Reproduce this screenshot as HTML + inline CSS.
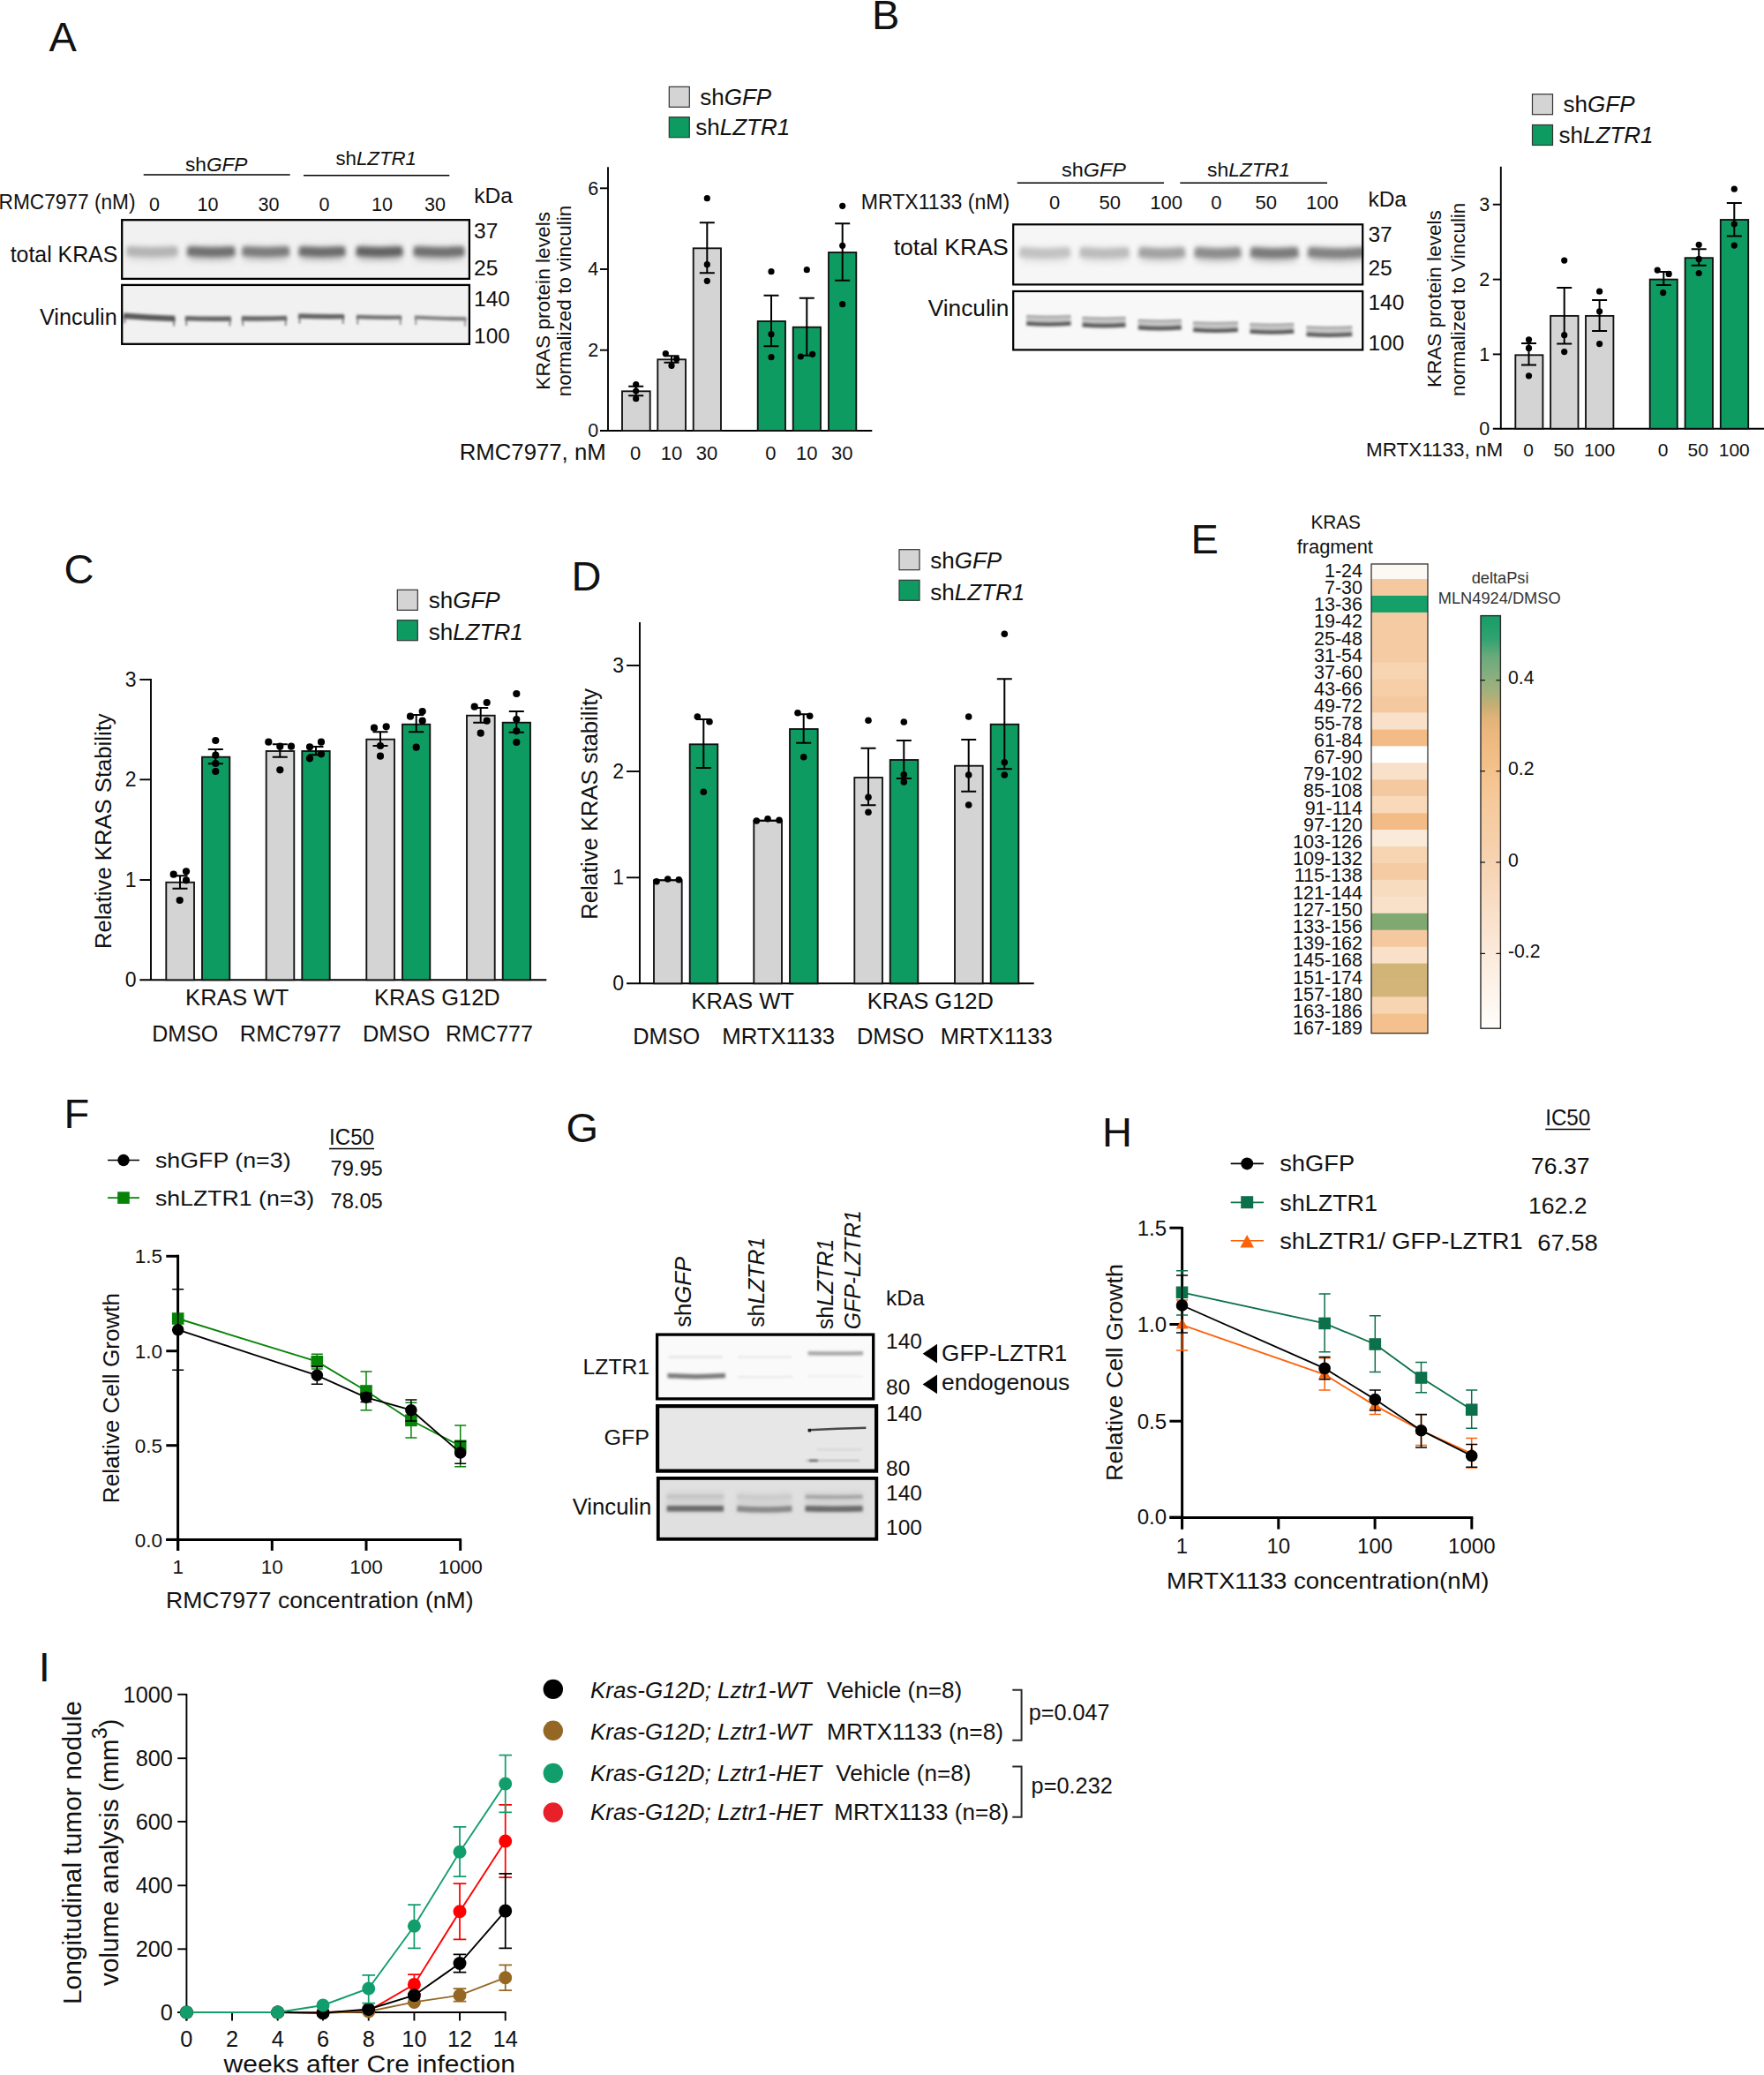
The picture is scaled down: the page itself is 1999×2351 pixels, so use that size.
<!DOCTYPE html>
<html lang="en"><head><meta charset="utf-8"><title>Figure</title>
<style>html,body{margin:0;padding:0;background:#fff}svg{display:block}</style></head>
<body>
<svg width="1999" height="2351" viewBox="0 0 1999 2351" font-family="'Liberation Sans', sans-serif" fill="#111">
<defs>
<linearGradient id="cb" x1="0" y1="0" x2="0" y2="1"><stop offset="0" stop-color="#179d66"/><stop offset="0.054" stop-color="#2fa270"/><stop offset="0.1" stop-color="#6aaa7c"/><stop offset="0.157" stop-color="#8fb07e"/><stop offset="0.19" stop-color="#a9b07c"/><stop offset="0.213" stop-color="#c2ae74"/><stop offset="0.247" stop-color="#dfb379"/><stop offset="0.281" stop-color="#ebb77d"/><stop offset="0.365" stop-color="#f4c08a"/><stop offset="0.434" stop-color="#f6c898"/><stop offset="0.598" stop-color="#f6d3b2"/><stop offset="0.819" stop-color="#fbeadb"/><stop offset="1" stop-color="#fffdfb"/></linearGradient>
</defs>
<rect x="0.0" y="0.0" width="1999.0" height="2351.0" fill="#fff"/>
<text x="55.6" y="58.4" font-size="47.00">A</text>
<text x="210.0" y="194.3" font-size="21.50" textLength="70.5" lengthAdjust="spacingAndGlyphs">sh<tspan font-style="italic">GFP</tspan></text>
<text x="380.5" y="187.3" font-size="21.50" textLength="91.5" lengthAdjust="spacingAndGlyphs">sh<tspan font-style="italic">LZTR1</tspan></text>
<line x1="162.7" y1="198.0" x2="328.7" y2="198.0" stroke="#000" stroke-width="1.6"/>
<line x1="344.0" y1="198.7" x2="509.3" y2="198.7" stroke="#000" stroke-width="1.6"/>
<text x="-1.5" y="237.3" font-size="23.00" textLength="155.0" lengthAdjust="spacingAndGlyphs">RMC7977 (nM)</text>
<text x="175.0" y="239.3" font-size="21.50" text-anchor="middle">0</text>
<text x="235.5" y="239.3" font-size="21.50" text-anchor="middle">10</text>
<text x="304.5" y="239.3" font-size="21.50" text-anchor="middle">30</text>
<text x="367.5" y="239.3" font-size="21.50" text-anchor="middle">0</text>
<text x="433.0" y="239.3" font-size="21.50" text-anchor="middle">10</text>
<text x="493.0" y="239.3" font-size="21.50" text-anchor="middle">30</text>
<text x="537.3" y="230.0" font-size="24.50">kDa</text>
<text x="537.0" y="270.0" font-size="24.50">37</text>
<text x="537.0" y="312.0" font-size="24.50">25</text>
<text x="537.0" y="346.7" font-size="24.50">140</text>
<text x="537.0" y="388.7" font-size="24.50">100</text>
<text x="11.7" y="296.7" font-size="25.00" textLength="121.6" lengthAdjust="spacingAndGlyphs">total KRAS</text>
<text x="45.0" y="367.7" font-size="25.00" textLength="87.7" lengthAdjust="spacingAndGlyphs">Vinculin</text>
<clipPath id="c1"><rect x="137.0" y="248.0" width="396.0" height="69.0"/></clipPath>
<filter id="c1f4" filterUnits="userSpaceOnUse" x="117" y="228" width="436" height="109"><feGaussianBlur stdDeviation="3.5"/></filter>
<filter id="c1f3" filterUnits="userSpaceOnUse" x="117" y="228" width="436" height="109"><feGaussianBlur stdDeviation="2.6"/></filter>
<rect x="137.0" y="248.0" width="396.0" height="69.0" fill="#f1f1f1"/>
<g clip-path="url(#c1)">
<g filter="url(#c1f4)">
<path d="M146.0 286.5Q172.3 288.7 198.7 286.5" stroke="#b4b4b4" stroke-width="17" fill="none" opacity="0.35"/>
<path d="M214.7 286.5Q239.2 288.7 263.7 286.5" stroke="#707070" stroke-width="17" fill="none" opacity="0.35"/>
<path d="M277.0 286.5Q301.1 288.7 325.3 286.5" stroke="#7c7c7c" stroke-width="17" fill="none" opacity="0.35"/>
<path d="M341.3 286.5Q365.0 288.7 388.7 286.5" stroke="#6c6c6c" stroke-width="17" fill="none" opacity="0.35"/>
<path d="M406.3 286.5Q430.0 288.7 453.7 286.5" stroke="#626262" stroke-width="17" fill="none" opacity="0.35"/>
<path d="M471.3 286.5Q497.5 288.7 523.7 286.5" stroke="#707070" stroke-width="17" fill="none" opacity="0.35"/>
</g>
<g filter="url(#c1f3)">
<path d="M143.5 284.6Q172.3 286.8 201.2 284.6" stroke="#b4b4b4" stroke-width="10.5" fill="none" opacity="1"/>
<path d="M212.2 284.6Q239.2 286.8 266.2 284.6" stroke="#707070" stroke-width="10.5" fill="none" opacity="1"/>
<path d="M274.5 284.6Q301.1 286.8 327.8 284.6" stroke="#7c7c7c" stroke-width="10.5" fill="none" opacity="1"/>
<path d="M338.8 284.6Q365.0 286.8 391.2 284.6" stroke="#6c6c6c" stroke-width="10.5" fill="none" opacity="1"/>
<path d="M403.8 284.6Q430.0 286.8 456.2 284.6" stroke="#626262" stroke-width="10.5" fill="none" opacity="1"/>
<path d="M468.8 284.6Q497.5 286.8 526.2 284.6" stroke="#707070" stroke-width="10.5" fill="none" opacity="1"/>
</g>
</g>
<rect x="138.2" y="249.2" width="393.7" height="66.7" fill="none" stroke="#000" stroke-width="2.3"/>
<clipPath id="c2"><rect x="137.0" y="321.8" width="396.0" height="69.2"/></clipPath>
<filter id="c2f2" filterUnits="userSpaceOnUse" x="117" y="302" width="436" height="109"><feGaussianBlur stdDeviation="1.8"/></filter>
<filter id="c2f1" filterUnits="userSpaceOnUse" x="117" y="302" width="436" height="109"><feGaussianBlur stdDeviation="1.0"/></filter>
<rect x="137.0" y="321.8" width="396.0" height="69.2" fill="#f1f1f1"/>
<g clip-path="url(#c2)">
<g filter="url(#c2f2)">
<path d="M140.0 357.8Q169.2 360.2 198.3 361.0" stroke="#585858" stroke-width="6.6" fill="none" opacity="1"/>
<path d="M210.0 360.6Q235.8 361.6 261.7 361.0" stroke="#646464" stroke-width="5.4" fill="none" opacity="1"/>
<path d="M274.0 360.8Q299.5 361.4 325.0 360.4" stroke="#666666" stroke-width="5.4" fill="none" opacity="1"/>
<path d="M338.3 358.0Q364.1 359.1 390.0 358.6" stroke="#626262" stroke-width="5.4" fill="none" opacity="1"/>
<path d="M404.0 359.0Q429.5 360.1 455.0 359.6" stroke="#6e6e6e" stroke-width="4.4" fill="none" opacity="1"/>
<path d="M470.0 359.6Q499.1 361.2 528.3 361.2" stroke="#7a7a7a" stroke-width="4.0" fill="none" opacity="1"/>
</g>
<g filter="url(#c2f1)">
<path d="M141.2 357.8V366.3M197.1 361.0V369.5" stroke="#585858" stroke-width="2.4" fill="none" opacity="0.6"/>
<path d="M211.2 360.6V369.1M260.5 361.0V369.5" stroke="#646464" stroke-width="2.4" fill="none" opacity="0.6"/>
<path d="M275.2 360.8V369.3M323.8 360.4V368.9" stroke="#666666" stroke-width="2.4" fill="none" opacity="0.6"/>
<path d="M339.5 358.0V366.5M388.8 358.6V367.1" stroke="#626262" stroke-width="2.4" fill="none" opacity="0.6"/>
<path d="M405.2 359.0V367.5M453.8 359.6V368.1" stroke="#6e6e6e" stroke-width="2.4" fill="none" opacity="0.6"/>
<path d="M471.2 359.6V368.1M527.1 361.2V369.7" stroke="#7a7a7a" stroke-width="2.4" fill="none" opacity="0.6"/>
</g>
</g>
<rect x="138.2" y="322.9" width="393.7" height="66.9" fill="none" stroke="#000" stroke-width="2.3"/>
<line x1="689.0" y1="189.3" x2="689.0" y2="488.8" stroke="#000" stroke-width="1.9"/>
<line x1="680.0" y1="488.0" x2="988.3" y2="488.0" stroke="#000" stroke-width="1.9"/>
<line x1="680.0" y1="213.3" x2="689.0" y2="213.3" stroke="#000" stroke-width="1.9"/>
<text x="678.3" y="220.6" font-size="21.50" text-anchor="end">6</text>
<line x1="680.0" y1="305.0" x2="689.0" y2="305.0" stroke="#000" stroke-width="1.9"/>
<text x="678.3" y="312.3" font-size="21.50" text-anchor="end">4</text>
<line x1="680.0" y1="396.7" x2="689.0" y2="396.7" stroke="#000" stroke-width="1.9"/>
<text x="678.3" y="404.0" font-size="21.50" text-anchor="end">2</text>
<text x="678.3" y="495.3" font-size="21.50" text-anchor="end">0</text>
<rect x="705.0" y="443.3" width="31.7" height="44.7" fill="#d4d4d4" stroke="#111" stroke-width="1.85"/>
<rect x="745.3" y="407.3" width="31.7" height="80.7" fill="#d4d4d4" stroke="#111" stroke-width="1.85"/>
<rect x="785.7" y="281.3" width="31.3" height="206.7" fill="#d4d4d4" stroke="#111" stroke-width="1.85"/>
<rect x="858.7" y="364.0" width="31.3" height="124.0" fill="#0e9b62" stroke="#111" stroke-width="1.85"/>
<rect x="898.7" y="370.7" width="31.3" height="117.3" fill="#0e9b62" stroke="#111" stroke-width="1.85"/>
<rect x="939.0" y="286.0" width="31.3" height="202.0" fill="#0e9b62" stroke="#111" stroke-width="1.85"/>
<path d="M712.2 437.7H729.2M712.2 448.3H729.2M720.7 437.7V448.3" stroke="#000" stroke-width="2.0" fill="none"/>
<path d="M752.5 403.3H769.5M752.5 410.7H769.5M761.0 403.3V410.7" stroke="#000" stroke-width="2.0" fill="none"/>
<path d="M792.8 252.3H809.8M792.8 309.3H809.8M801.3 252.3V309.3" stroke="#000" stroke-width="2.0" fill="none"/>
<path d="M865.5 334.7H882.5M865.5 392.3H882.5M874.0 334.7V392.3" stroke="#000" stroke-width="2.0" fill="none"/>
<path d="M905.8 337.7H922.8M905.8 402.7H922.8M914.3 337.7V402.7" stroke="#000" stroke-width="2.0" fill="none"/>
<path d="M946.2 253.3H963.2M946.2 317.7H963.2M954.7 253.3V317.7" stroke="#000" stroke-width="2.0" fill="none"/>
<circle cx="720.7" cy="435.7" r="3.6" fill="#000"/>
<circle cx="720.7" cy="443.0" r="3.6" fill="#000"/>
<circle cx="720.7" cy="451.7" r="3.6" fill="#000"/>
<circle cx="754.3" cy="400.7" r="3.6" fill="#000"/>
<circle cx="766.7" cy="406.7" r="3.6" fill="#000"/>
<circle cx="761.0" cy="414.3" r="3.6" fill="#000"/>
<circle cx="801.3" cy="224.7" r="3.6" fill="#000"/>
<circle cx="801.3" cy="299.7" r="3.6" fill="#000"/>
<circle cx="801.3" cy="318.3" r="3.6" fill="#000"/>
<circle cx="874.0" cy="307.7" r="3.6" fill="#000"/>
<circle cx="874.0" cy="378.7" r="3.6" fill="#000"/>
<circle cx="874.0" cy="404.7" r="3.6" fill="#000"/>
<circle cx="914.3" cy="305.7" r="3.6" fill="#000"/>
<circle cx="907.3" cy="404.0" r="3.6" fill="#000"/>
<circle cx="920.7" cy="401.3" r="3.6" fill="#000"/>
<circle cx="954.7" cy="233.3" r="3.6" fill="#000"/>
<circle cx="954.7" cy="278.3" r="3.6" fill="#000"/>
<circle cx="954.7" cy="344.7" r="3.6" fill="#000"/>
<rect x="758.3" y="98.3" width="23.0" height="23.0" fill="#d4d4d4" stroke="#333" stroke-width="1.2"/>
<rect x="758.3" y="132.7" width="23.0" height="23.0" fill="#0e9b62" stroke="#333" stroke-width="1.2"/>
<text x="793.3" y="119.3" font-size="26.00">sh<tspan font-style="italic">GFP</tspan></text>
<text x="788.3" y="153.3" font-size="26.00">sh<tspan font-style="italic">LZTR1</tspan></text>
<text x="0" y="0" font-size="22.50" text-anchor="middle" textLength="201.7" lengthAdjust="spacingAndGlyphs" transform="translate(622.7 340.8) rotate(-90)">KRAS protein levels</text>
<text x="0" y="0" font-size="22.50" text-anchor="middle" textLength="216.7" lengthAdjust="spacingAndGlyphs" transform="translate(646.7 341.0) rotate(-90)">normalized to vinculin</text>
<text x="520.7" y="521.0" font-size="25.50" textLength="166.0" lengthAdjust="spacingAndGlyphs">RMC7977, nM</text>
<text x="720.0" y="521.0" font-size="22.00" text-anchor="middle">0</text>
<text x="761.0" y="521.0" font-size="22.00" text-anchor="middle">10</text>
<text x="801.0" y="521.0" font-size="22.00" text-anchor="middle">30</text>
<text x="873.3" y="521.0" font-size="22.00" text-anchor="middle">0</text>
<text x="914.3" y="521.0" font-size="22.00" text-anchor="middle">10</text>
<text x="954.3" y="521.0" font-size="22.00" text-anchor="middle">30</text>
<text x="988.0" y="32.8" font-size="47.00">B</text>
<text x="1203.0" y="200.0" font-size="22.00" textLength="73.0" lengthAdjust="spacingAndGlyphs">sh<tspan font-style="italic">GFP</tspan></text>
<text x="1368.0" y="200.0" font-size="22.00" textLength="94.0" lengthAdjust="spacingAndGlyphs">sh<tspan font-style="italic">LZTR1</tspan></text>
<line x1="1152.7" y1="207.3" x2="1319.0" y2="207.3" stroke="#000" stroke-width="1.6"/>
<line x1="1337.3" y1="207.3" x2="1504.0" y2="207.3" stroke="#000" stroke-width="1.6"/>
<text x="975.7" y="237.3" font-size="23.00" textLength="168.6" lengthAdjust="spacingAndGlyphs">MRTX1133 (nM)</text>
<text x="1195.0" y="237.3" font-size="22.00" text-anchor="middle">0</text>
<text x="1257.7" y="237.3" font-size="22.00" text-anchor="middle">50</text>
<text x="1321.7" y="237.3" font-size="22.00" text-anchor="middle">100</text>
<text x="1378.3" y="237.3" font-size="22.00" text-anchor="middle">0</text>
<text x="1434.7" y="237.3" font-size="22.00" text-anchor="middle">50</text>
<text x="1498.3" y="237.3" font-size="22.00" text-anchor="middle">100</text>
<text x="1012.7" y="289.3" font-size="26.00" textLength="130.0" lengthAdjust="spacingAndGlyphs">total KRAS</text>
<text x="1051.7" y="358.3" font-size="26.00" textLength="91.6" lengthAdjust="spacingAndGlyphs">Vinculin</text>
<text x="1550.4" y="234.0" font-size="24.50">kDa</text>
<text x="1550.4" y="273.6" font-size="24.50">37</text>
<text x="1550.4" y="311.8" font-size="24.50">25</text>
<text x="1550.4" y="350.5" font-size="24.50">140</text>
<text x="1550.4" y="396.6" font-size="24.50">100</text>
<clipPath id="c3"><rect x="1147.1" y="253.2" width="398.2" height="70.3"/></clipPath>
<filter id="c3f4" filterUnits="userSpaceOnUse" x="1127" y="233" width="438" height="110"><feGaussianBlur stdDeviation="3.5"/></filter>
<filter id="c3f3" filterUnits="userSpaceOnUse" x="1127" y="233" width="438" height="110"><feGaussianBlur stdDeviation="2.6"/></filter>
<rect x="1147.1" y="253.2" width="398.2" height="70.3" fill="#f6f6f6"/>
<g clip-path="url(#c3)">
<g filter="url(#c3f4)">
<path d="M1158.0 287.5Q1184.2 291.0 1210.3 287.5" stroke="#c2c2c2" stroke-width="18" fill="none" opacity="0.35"/>
<path d="M1226.3 287.5Q1251.7 291.0 1277.0 287.5" stroke="#bcbcbc" stroke-width="18" fill="none" opacity="0.35"/>
<path d="M1293.0 287.5Q1316.7 291.0 1340.3 287.5" stroke="#a2a2a2" stroke-width="18" fill="none" opacity="0.35"/>
<path d="M1356.3 287.5Q1380.0 291.0 1403.7 287.5" stroke="#8c8c8c" stroke-width="18" fill="none" opacity="0.35"/>
<path d="M1419.7 287.5Q1444.2 291.0 1468.7 287.5" stroke="#7a7a7a" stroke-width="18" fill="none" opacity="0.35"/>
<path d="M1484.7 287.5Q1514.8 291.0 1545.0 287.5" stroke="#828282" stroke-width="18" fill="none" opacity="0.35"/>
</g>
<g filter="url(#c3f3)">
<path d="M1155.5 285.5Q1184.2 289.0 1212.8 285.5" stroke="#c2c2c2" stroke-width="11" fill="none" opacity="1"/>
<path d="M1223.8 285.5Q1251.7 289.0 1279.5 285.5" stroke="#bcbcbc" stroke-width="11" fill="none" opacity="1"/>
<path d="M1290.5 285.5Q1316.7 289.0 1342.8 285.5" stroke="#a2a2a2" stroke-width="11" fill="none" opacity="1"/>
<path d="M1353.8 285.5Q1380.0 289.0 1406.2 285.5" stroke="#8c8c8c" stroke-width="11" fill="none" opacity="1"/>
<path d="M1417.2 285.5Q1444.2 289.0 1471.2 285.5" stroke="#7a7a7a" stroke-width="11" fill="none" opacity="1"/>
<path d="M1482.2 285.5Q1514.8 289.0 1547.5 285.5" stroke="#828282" stroke-width="11" fill="none" opacity="1"/>
</g>
</g>
<rect x="1148.2" y="254.3" width="396.0" height="68.1" fill="none" stroke="#000" stroke-width="2.2"/>
<clipPath id="c4"><rect x="1147.1" y="328.9" width="398.2" height="68.6"/></clipPath>
<filter id="c4f2" filterUnits="userSpaceOnUse" x="1127" y="309" width="438" height="109"><feGaussianBlur stdDeviation="1.8"/></filter>
<filter id="c4f1" filterUnits="userSpaceOnUse" x="1127" y="309" width="438" height="109"><feGaussianBlur stdDeviation="1.0"/></filter>
<rect x="1147.1" y="328.9" width="398.2" height="68.6" fill="#f8f8f8"/>
<g clip-path="url(#c4)">
<g filter="url(#c4f2)">
<path d="M1163.2 360.5Q1188.3 362.0 1213.5 360.5" stroke="#c6c6c6" stroke-width="7.5" fill="none" opacity="1"/>
<path d="M1163.2 366.3Q1188.3 368.3 1213.5 366.3" stroke="#5a5a5a" stroke-width="4.8" fill="none" opacity="1"/>
<path d="M1226.5 362.2Q1251.0 363.7 1275.5 362.2" stroke="#c6c6c6" stroke-width="7.5" fill="none" opacity="1"/>
<path d="M1226.5 368.0Q1251.0 370.0 1275.5 368.0" stroke="#5a5a5a" stroke-width="4.8" fill="none" opacity="1"/>
<path d="M1289.8 365.2Q1314.3 366.7 1338.8 365.2" stroke="#c6c6c6" stroke-width="7.5" fill="none" opacity="1"/>
<path d="M1289.8 371.0Q1314.3 373.0 1338.8 371.0" stroke="#5a5a5a" stroke-width="4.8" fill="none" opacity="1"/>
<path d="M1352.2 367.8Q1377.5 369.3 1402.8 367.8" stroke="#c6c6c6" stroke-width="7.5" fill="none" opacity="1"/>
<path d="M1352.2 373.6Q1377.5 375.6 1402.8 373.6" stroke="#5a5a5a" stroke-width="4.8" fill="none" opacity="1"/>
<path d="M1416.5 369.5Q1441.3 371.0 1466.2 369.5" stroke="#c6c6c6" stroke-width="7.5" fill="none" opacity="1"/>
<path d="M1416.5 375.3Q1441.3 377.3 1466.2 375.3" stroke="#5a5a5a" stroke-width="4.8" fill="none" opacity="1"/>
<path d="M1480.5 372.8Q1506.3 374.3 1532.2 372.8" stroke="#c6c6c6" stroke-width="7.5" fill="none" opacity="1"/>
<path d="M1480.5 378.6Q1506.3 380.6 1532.2 378.6" stroke="#5a5a5a" stroke-width="4.8" fill="none" opacity="1"/>
</g>
<g filter="url(#c4f1)">
<path d="M1163.2 358.5Q1188.3 360.0 1213.5 358.5" stroke="#a8a8a8" stroke-width="2.5" fill="none" opacity="0.7"/>
<path d="M1226.5 360.2Q1251.0 361.7 1275.5 360.2" stroke="#a8a8a8" stroke-width="2.5" fill="none" opacity="0.7"/>
<path d="M1289.8 363.2Q1314.3 364.7 1338.8 363.2" stroke="#a8a8a8" stroke-width="2.5" fill="none" opacity="0.7"/>
<path d="M1352.2 365.8Q1377.5 367.3 1402.8 365.8" stroke="#a8a8a8" stroke-width="2.5" fill="none" opacity="0.7"/>
<path d="M1416.5 367.5Q1441.3 369.0 1466.2 367.5" stroke="#a8a8a8" stroke-width="2.5" fill="none" opacity="0.7"/>
<path d="M1480.5 370.8Q1506.3 372.3 1532.2 370.8" stroke="#a8a8a8" stroke-width="2.5" fill="none" opacity="0.7"/>
</g>
</g>
<rect x="1148.2" y="330.0" width="396.0" height="66.4" fill="none" stroke="#000" stroke-width="2.2"/>
<line x1="1700.8" y1="188.7" x2="1700.8" y2="486.5" stroke="#000" stroke-width="1.9"/>
<line x1="1691.8" y1="485.7" x2="1999.0" y2="485.7" stroke="#000" stroke-width="1.9"/>
<line x1="1691.8" y1="231.7" x2="1700.8" y2="231.7" stroke="#000" stroke-width="1.9"/>
<text x="1688.3" y="239.0" font-size="21.50" text-anchor="end">3</text>
<line x1="1691.8" y1="316.6" x2="1700.8" y2="316.6" stroke="#000" stroke-width="1.9"/>
<text x="1688.3" y="323.9" font-size="21.50" text-anchor="end">2</text>
<line x1="1691.8" y1="401.4" x2="1700.8" y2="401.4" stroke="#000" stroke-width="1.9"/>
<text x="1688.3" y="408.7" font-size="21.50" text-anchor="end">1</text>
<text x="1688.3" y="493.0" font-size="21.50" text-anchor="end">0</text>
<rect x="1717.3" y="402.3" width="31.1" height="83.4" fill="#d4d4d4" stroke="#111" stroke-width="1.85"/>
<rect x="1757.1" y="357.9" width="31.4" height="127.8" fill="#d4d4d4" stroke="#111" stroke-width="1.85"/>
<rect x="1797.0" y="357.9" width="31.4" height="127.8" fill="#d4d4d4" stroke="#111" stroke-width="1.85"/>
<rect x="1869.7" y="316.6" width="31.1" height="169.1" fill="#0e9b62" stroke="#111" stroke-width="1.85"/>
<rect x="1909.6" y="292.2" width="31.4" height="193.5" fill="#0e9b62" stroke="#111" stroke-width="1.85"/>
<rect x="1949.8" y="249.0" width="31.4" height="236.7" fill="#0e9b62" stroke="#111" stroke-width="1.85"/>
<path d="M1724.0 389.0H1741.0M1724.0 413.6H1741.0M1732.5 389.0V413.6" stroke="#000" stroke-width="2.0" fill="none"/>
<path d="M1764.2 325.9H1781.2M1764.2 389.6H1781.2M1772.7 325.9V389.6" stroke="#000" stroke-width="2.0" fill="none"/>
<path d="M1804.1 340.0H1821.1M1804.1 374.9H1821.1M1812.6 340.0V374.9" stroke="#000" stroke-width="2.0" fill="none"/>
<path d="M1876.8 308.1H1893.8M1876.8 323.1H1893.8M1885.3 308.1V323.1" stroke="#000" stroke-width="2.0" fill="none"/>
<path d="M1916.7 282.3H1933.7M1916.7 300.7H1933.7M1925.2 282.3V300.7" stroke="#000" stroke-width="2.0" fill="none"/>
<path d="M1956.8 230.0H1973.8M1956.8 267.4H1973.8M1965.3 230.0V267.4" stroke="#000" stroke-width="2.0" fill="none"/>
<circle cx="1732.5" cy="384.8" r="3.6" fill="#000"/>
<circle cx="1732.5" cy="394.4" r="3.6" fill="#000"/>
<circle cx="1732.5" cy="425.8" r="3.6" fill="#000"/>
<circle cx="1772.7" cy="295.1" r="3.6" fill="#000"/>
<circle cx="1772.7" cy="379.7" r="3.6" fill="#000"/>
<circle cx="1772.7" cy="398.6" r="3.6" fill="#000"/>
<circle cx="1812.6" cy="330.2" r="3.6" fill="#000"/>
<circle cx="1812.6" cy="352.8" r="3.6" fill="#000"/>
<circle cx="1812.6" cy="389.6" r="3.6" fill="#000"/>
<circle cx="1878.2" cy="306.1" r="3.6" fill="#000"/>
<circle cx="1891.2" cy="310.4" r="3.6" fill="#000"/>
<circle cx="1884.7" cy="331.6" r="3.6" fill="#000"/>
<circle cx="1925.2" cy="277.3" r="3.6" fill="#000"/>
<circle cx="1925.2" cy="293.4" r="3.6" fill="#000"/>
<circle cx="1925.2" cy="309.5" r="3.6" fill="#000"/>
<circle cx="1965.3" cy="214.2" r="3.6" fill="#000"/>
<circle cx="1965.3" cy="253.8" r="3.6" fill="#000"/>
<circle cx="1965.3" cy="278.1" r="3.6" fill="#000"/>
<rect x="1736.5" y="106.7" width="23.0" height="23.0" fill="#d4d4d4" stroke="#333" stroke-width="1.2"/>
<rect x="1736.5" y="141.5" width="23.0" height="23.0" fill="#0e9b62" stroke="#333" stroke-width="1.2"/>
<text x="1771.6" y="127.0" font-size="26.00">sh<tspan font-style="italic">GFP</tspan></text>
<text x="1766.5" y="161.8" font-size="26.00">sh<tspan font-style="italic">LZTR1</tspan></text>
<text x="0" y="0" font-size="22.50" text-anchor="middle" textLength="201.0" lengthAdjust="spacingAndGlyphs" transform="translate(1633.0 338.6) rotate(-90)">KRAS protein levels</text>
<text x="0" y="0" font-size="22.50" text-anchor="middle" textLength="219.3" lengthAdjust="spacingAndGlyphs" transform="translate(1659.8 339.3) rotate(-90)">normalized to Vinculin</text>
<text x="1548.1" y="517.4" font-size="22.20" textLength="155.0" lengthAdjust="spacingAndGlyphs">MRTX1133, nM</text>
<text x="1732.0" y="517.4" font-size="21.00" text-anchor="middle">0</text>
<text x="1772.1" y="517.4" font-size="21.00" text-anchor="middle">50</text>
<text x="1812.6" y="517.4" font-size="21.00" text-anchor="middle">100</text>
<text x="1884.7" y="517.4" font-size="21.00" text-anchor="middle">0</text>
<text x="1924.3" y="517.4" font-size="21.00" text-anchor="middle">50</text>
<text x="1965.3" y="517.4" font-size="21.00" text-anchor="middle">100</text>
<text x="72.6" y="661.2" font-size="47.00">C</text>
<line x1="171.0" y1="769.0" x2="171.0" y2="1111.1" stroke="#000" stroke-width="1.9"/>
<line x1="158.3" y1="1110.3" x2="619.3" y2="1110.3" stroke="#000" stroke-width="1.9"/>
<line x1="158.3" y1="770.0" x2="171.0" y2="770.0" stroke="#000" stroke-width="1.9"/>
<text x="154.6" y="778.0" font-size="23.00" text-anchor="end">3</text>
<line x1="158.3" y1="883.3" x2="171.0" y2="883.3" stroke="#000" stroke-width="1.9"/>
<text x="154.6" y="891.3" font-size="23.00" text-anchor="end">2</text>
<line x1="158.3" y1="997.0" x2="171.0" y2="997.0" stroke="#000" stroke-width="1.9"/>
<text x="154.6" y="1005.0" font-size="23.00" text-anchor="end">1</text>
<text x="154.6" y="1118.3" font-size="23.00" text-anchor="end">0</text>
<rect x="188.3" y="999.7" width="31.7" height="110.6" fill="#d4d4d4" stroke="#111" stroke-width="1.85"/>
<rect x="229.0" y="857.7" width="31.3" height="252.6" fill="#0e9b62" stroke="#111" stroke-width="1.85"/>
<rect x="301.7" y="851.0" width="31.6" height="259.3" fill="#d4d4d4" stroke="#111" stroke-width="1.85"/>
<rect x="342.3" y="851.0" width="31.4" height="259.3" fill="#0e9b62" stroke="#111" stroke-width="1.85"/>
<rect x="415.3" y="837.7" width="31.7" height="272.6" fill="#d4d4d4" stroke="#111" stroke-width="1.85"/>
<rect x="456.0" y="820.7" width="31.3" height="289.6" fill="#0e9b62" stroke="#111" stroke-width="1.85"/>
<rect x="529.0" y="810.7" width="31.7" height="299.6" fill="#d4d4d4" stroke="#111" stroke-width="1.85"/>
<rect x="569.7" y="818.7" width="31.3" height="291.6" fill="#0e9b62" stroke="#111" stroke-width="1.85"/>
<path d="M195.5 992.3H212.5M195.5 1006.7H212.5M204.0 992.3V1006.7" stroke="#000" stroke-width="2.0" fill="none"/>
<path d="M235.8 849.0H252.8M235.8 865.3H252.8M244.3 849.0V865.3" stroke="#000" stroke-width="2.0" fill="none"/>
<path d="M308.8 843.3H325.8M308.8 857.7H325.8M317.3 843.3V857.7" stroke="#000" stroke-width="2.0" fill="none"/>
<path d="M349.5 846.0H366.5M349.5 855.3H366.5M358.0 846.0V855.3" stroke="#000" stroke-width="2.0" fill="none"/>
<path d="M422.5 829.3H439.5M422.5 845.0H439.5M431.0 829.3V845.0" stroke="#000" stroke-width="2.0" fill="none"/>
<path d="M463.2 810.0H480.2M463.2 829.3H480.2M471.7 810.0V829.3" stroke="#000" stroke-width="2.0" fill="none"/>
<path d="M536.2 802.0H553.2M536.2 818.7H553.2M544.7 802.0V818.7" stroke="#000" stroke-width="2.0" fill="none"/>
<path d="M576.8 806.0H593.8M576.8 829.7H593.8M585.3 806.0V829.7" stroke="#000" stroke-width="2.0" fill="none"/>
<circle cx="196.7" cy="990.7" r="4.1" fill="#000"/>
<circle cx="211.0" cy="987.3" r="4.1" fill="#000"/>
<circle cx="211.0" cy="997.3" r="4.1" fill="#000"/>
<circle cx="203.7" cy="1020.0" r="4.1" fill="#000"/>
<circle cx="244.3" cy="839.0" r="4.1" fill="#000"/>
<circle cx="244.3" cy="855.7" r="4.1" fill="#000"/>
<circle cx="244.3" cy="865.0" r="4.1" fill="#000"/>
<circle cx="244.3" cy="874.0" r="4.1" fill="#000"/>
<circle cx="304.3" cy="840.7" r="4.1" fill="#000"/>
<circle cx="317.3" cy="845.7" r="4.1" fill="#000"/>
<circle cx="330.0" cy="845.7" r="4.1" fill="#000"/>
<circle cx="317.3" cy="872.3" r="4.1" fill="#000"/>
<circle cx="351.0" cy="846.3" r="4.1" fill="#000"/>
<circle cx="364.0" cy="840.7" r="4.1" fill="#000"/>
<circle cx="351.0" cy="859.3" r="4.1" fill="#000"/>
<circle cx="364.0" cy="854.3" r="4.1" fill="#000"/>
<circle cx="424.0" cy="824.7" r="4.1" fill="#000"/>
<circle cx="437.7" cy="823.3" r="4.1" fill="#000"/>
<circle cx="431.0" cy="845.0" r="4.1" fill="#000"/>
<circle cx="431.0" cy="856.7" r="4.1" fill="#000"/>
<circle cx="465.0" cy="811.7" r="4.1" fill="#000"/>
<circle cx="478.7" cy="806.0" r="4.1" fill="#000"/>
<circle cx="478.7" cy="816.7" r="4.1" fill="#000"/>
<circle cx="471.7" cy="846.7" r="4.1" fill="#000"/>
<circle cx="537.7" cy="800.7" r="4.1" fill="#000"/>
<circle cx="551.7" cy="796.0" r="4.1" fill="#000"/>
<circle cx="551.7" cy="816.7" r="4.1" fill="#000"/>
<circle cx="544.7" cy="830.7" r="4.1" fill="#000"/>
<circle cx="585.3" cy="786.0" r="4.1" fill="#000"/>
<circle cx="585.3" cy="815.0" r="4.1" fill="#000"/>
<circle cx="585.3" cy="828.3" r="4.1" fill="#000"/>
<circle cx="585.3" cy="841.0" r="4.1" fill="#000"/>
<rect x="450.3" y="668.3" width="23.0" height="23.0" fill="#d4d4d4" stroke="#333" stroke-width="1.2"/>
<rect x="450.3" y="702.7" width="23.0" height="23.0" fill="#0e9b62" stroke="#333" stroke-width="1.2"/>
<text x="485.7" y="689.0" font-size="26.00">sh<tspan font-style="italic">GFP</tspan></text>
<text x="485.7" y="725.0" font-size="26.00">sh<tspan font-style="italic">LZTR1</tspan></text>
<text x="0" y="0" font-size="25.50" text-anchor="middle" textLength="266.7" lengthAdjust="spacingAndGlyphs" transform="translate(126.0 941.7) rotate(-90)">Relative KRAS Stability</text>
<text x="210.0" y="1139.3" font-size="25.50" textLength="117.3" lengthAdjust="spacingAndGlyphs">KRAS WT</text>
<text x="424.0" y="1139.3" font-size="25.50" textLength="142.7" lengthAdjust="spacingAndGlyphs">KRAS G12D</text>
<text x="172.3" y="1180.0" font-size="25.50" textLength="75.0" lengthAdjust="spacingAndGlyphs">DMSO</text>
<text x="271.7" y="1180.0" font-size="25.50" textLength="115.0" lengthAdjust="spacingAndGlyphs">RMC7977</text>
<text x="411.0" y="1180.0" font-size="25.50" textLength="76.3" lengthAdjust="spacingAndGlyphs">DMSO</text>
<text x="505.0" y="1180.0" font-size="25.50" textLength="99.0" lengthAdjust="spacingAndGlyphs">RMC777</text>
<text x="647.6" y="669.2" font-size="47.00">D</text>
<line x1="725.0" y1="705.0" x2="725.0" y2="1115.1" stroke="#000" stroke-width="1.9"/>
<line x1="710.0" y1="1114.3" x2="1171.7" y2="1114.3" stroke="#000" stroke-width="1.9"/>
<line x1="710.0" y1="754.0" x2="725.0" y2="754.0" stroke="#000" stroke-width="1.9"/>
<text x="707.0" y="762.0" font-size="23.00" text-anchor="end">3</text>
<line x1="710.0" y1="874.0" x2="725.0" y2="874.0" stroke="#000" stroke-width="1.9"/>
<text x="707.0" y="882.0" font-size="23.00" text-anchor="end">2</text>
<line x1="710.0" y1="994.3" x2="725.0" y2="994.3" stroke="#000" stroke-width="1.9"/>
<text x="707.0" y="1002.3" font-size="23.00" text-anchor="end">1</text>
<text x="707.0" y="1122.3" font-size="23.00" text-anchor="end">0</text>
<rect x="741.0" y="997.3" width="31.7" height="117.0" fill="#d4d4d4" stroke="#111" stroke-width="1.85"/>
<rect x="781.7" y="843.3" width="31.6" height="271.0" fill="#0e9b62" stroke="#111" stroke-width="1.85"/>
<rect x="854.3" y="930.0" width="31.7" height="184.3" fill="#d4d4d4" stroke="#111" stroke-width="1.85"/>
<rect x="895.0" y="826.0" width="31.7" height="288.3" fill="#0e9b62" stroke="#111" stroke-width="1.85"/>
<rect x="968.3" y="881.0" width="31.7" height="233.3" fill="#d4d4d4" stroke="#111" stroke-width="1.85"/>
<rect x="1008.7" y="861.0" width="31.6" height="253.3" fill="#0e9b62" stroke="#111" stroke-width="1.85"/>
<rect x="1082.0" y="867.7" width="31.7" height="246.6" fill="#d4d4d4" stroke="#111" stroke-width="1.85"/>
<rect x="1122.7" y="820.7" width="31.6" height="293.6" fill="#0e9b62" stroke="#111" stroke-width="1.85"/>
<path d="M788.8 815.0H805.8M788.8 870.0H805.8M797.3 815.0V870.0" stroke="#000" stroke-width="2.0" fill="none"/>
<path d="M902.2 809.3H919.2M902.2 841.7H919.2M910.7 809.3V841.7" stroke="#000" stroke-width="2.0" fill="none"/>
<path d="M975.5 847.7H992.5M975.5 912.3H992.5M984.0 847.7V912.3" stroke="#000" stroke-width="2.0" fill="none"/>
<path d="M1015.8 839.0H1032.8M1015.8 882.0H1032.8M1024.3 839.0V882.0" stroke="#000" stroke-width="2.0" fill="none"/>
<path d="M1089.2 838.0H1106.2M1089.2 896.7H1106.2M1097.7 838.0V896.7" stroke="#000" stroke-width="2.0" fill="none"/>
<path d="M1129.8 769.3H1146.8M1129.8 871.3H1146.8M1138.3 769.3V871.3" stroke="#000" stroke-width="2.0" fill="none"/>
<circle cx="744.0" cy="998.7" r="3.8" fill="#000"/>
<circle cx="756.7" cy="996.0" r="3.8" fill="#000"/>
<circle cx="769.3" cy="996.7" r="3.8" fill="#000"/>
<circle cx="790.3" cy="812.0" r="3.8" fill="#000"/>
<circle cx="804.0" cy="817.7" r="3.8" fill="#000"/>
<circle cx="797.3" cy="897.3" r="3.8" fill="#000"/>
<circle cx="857.3" cy="930.0" r="3.8" fill="#000"/>
<circle cx="870.0" cy="927.7" r="3.8" fill="#000"/>
<circle cx="883.0" cy="929.3" r="3.8" fill="#000"/>
<circle cx="904.0" cy="807.7" r="3.8" fill="#000"/>
<circle cx="917.7" cy="811.3" r="3.8" fill="#000"/>
<circle cx="910.7" cy="857.7" r="3.8" fill="#000"/>
<circle cx="984.0" cy="816.3" r="3.8" fill="#000"/>
<circle cx="984.0" cy="903.3" r="3.8" fill="#000"/>
<circle cx="984.0" cy="920.3" r="3.8" fill="#000"/>
<circle cx="1024.3" cy="818.0" r="3.8" fill="#000"/>
<circle cx="1024.3" cy="877.7" r="3.8" fill="#000"/>
<circle cx="1024.3" cy="886.0" r="3.8" fill="#000"/>
<circle cx="1097.7" cy="812.0" r="3.8" fill="#000"/>
<circle cx="1097.7" cy="878.0" r="3.8" fill="#000"/>
<circle cx="1097.7" cy="912.0" r="3.8" fill="#000"/>
<circle cx="1138.3" cy="718.3" r="3.8" fill="#000"/>
<circle cx="1138.3" cy="863.7" r="3.8" fill="#000"/>
<circle cx="1138.3" cy="878.0" r="3.8" fill="#000"/>
<line x1="744.0" y1="997.3" x2="769.3" y2="997.3" stroke="#000" stroke-width="1.8"/>
<line x1="857.3" y1="929.5" x2="883.0" y2="929.5" stroke="#000" stroke-width="1.8"/>
<rect x="1019.0" y="622.7" width="23.0" height="23.0" fill="#d4d4d4" stroke="#333" stroke-width="1.2"/>
<rect x="1019.0" y="657.3" width="23.0" height="23.0" fill="#0e9b62" stroke="#333" stroke-width="1.2"/>
<text x="1054.3" y="644.0" font-size="26.00">sh<tspan font-style="italic">GFP</tspan></text>
<text x="1054.3" y="680.0" font-size="26.00">sh<tspan font-style="italic">LZTR1</tspan></text>
<text x="0" y="0" font-size="25.50" text-anchor="middle" textLength="261.7" lengthAdjust="spacingAndGlyphs" transform="translate(677.3 910.8) rotate(-90)">Relative KRAS stability</text>
<text x="783.3" y="1142.7" font-size="25.50" textLength="116.7" lengthAdjust="spacingAndGlyphs">KRAS WT</text>
<text x="982.7" y="1142.7" font-size="25.50" textLength="143.3" lengthAdjust="spacingAndGlyphs">KRAS G12D</text>
<text x="717.3" y="1183.3" font-size="25.50" textLength="76.0" lengthAdjust="spacingAndGlyphs">DMSO</text>
<text x="818.3" y="1183.3" font-size="25.50" textLength="127.7" lengthAdjust="spacingAndGlyphs">MRTX1133</text>
<text x="971.0" y="1183.3" font-size="25.50" textLength="76.3" lengthAdjust="spacingAndGlyphs">DMSO</text>
<text x="1065.7" y="1183.3" font-size="25.50" textLength="127.0" lengthAdjust="spacingAndGlyphs">MRTX1133</text>
<text x="1349.6" y="626.5" font-size="47.00">E</text>
<text x="1485.4" y="599.0" font-size="21.50" textLength="56.6" lengthAdjust="spacingAndGlyphs">KRAS</text>
<text x="1469.7" y="626.5" font-size="21.80" textLength="86.2" lengthAdjust="spacingAndGlyphs">fragment</text>
<rect x="1554.0" y="639.0" width="64.0" height="17.4" fill="#fcf8f3"/>
<text x="1544.0" y="653.7" font-size="21.50" text-anchor="end">1-24</text>
<rect x="1554.0" y="656.0" width="64.0" height="19.3" fill="#f5c9a0"/>
<text x="1544.0" y="672.9" font-size="21.50" text-anchor="end">7-30</text>
<rect x="1554.0" y="674.9" width="64.0" height="19.3" fill="#15a06a"/>
<text x="1544.0" y="692.1" font-size="21.50" text-anchor="end">13-36</text>
<rect x="1554.0" y="693.9" width="64.0" height="19.3" fill="#f5cba3"/>
<text x="1544.0" y="711.3" font-size="21.50" text-anchor="end">19-42</text>
<rect x="1554.0" y="712.8" width="64.0" height="19.3" fill="#f5cba3"/>
<text x="1544.0" y="730.5" font-size="21.50" text-anchor="end">25-48</text>
<rect x="1554.0" y="731.8" width="64.0" height="19.3" fill="#f5cba3"/>
<text x="1544.0" y="749.7" font-size="21.50" text-anchor="end">31-54</text>
<rect x="1554.0" y="750.7" width="64.0" height="19.3" fill="#f7d5b3"/>
<text x="1544.0" y="768.9" font-size="21.50" text-anchor="end">37-60</text>
<rect x="1554.0" y="769.6" width="64.0" height="19.3" fill="#f6cfa9"/>
<text x="1544.0" y="788.1" font-size="21.50" text-anchor="end">43-66</text>
<rect x="1554.0" y="788.6" width="64.0" height="19.3" fill="#f5c9a0"/>
<text x="1544.0" y="807.3" font-size="21.50" text-anchor="end">49-72</text>
<rect x="1554.0" y="807.5" width="64.0" height="19.3" fill="#f9e0c8"/>
<text x="1544.0" y="826.5" font-size="21.50" text-anchor="end">55-78</text>
<rect x="1554.0" y="826.5" width="64.0" height="19.3" fill="#f3bb85"/>
<text x="1544.0" y="845.7" font-size="21.50" text-anchor="end">61-84</text>
<rect x="1554.0" y="845.4" width="64.0" height="19.3" fill="#ffffff"/>
<text x="1544.0" y="864.9" font-size="21.50" text-anchor="end">67-90</text>
<rect x="1554.0" y="864.3" width="64.0" height="19.3" fill="#f9e0c8"/>
<text x="1544.0" y="884.1" font-size="21.50" text-anchor="end">79-102</text>
<rect x="1554.0" y="883.3" width="64.0" height="19.3" fill="#f5c9a0"/>
<text x="1544.0" y="903.3" font-size="21.50" text-anchor="end">85-108</text>
<rect x="1554.0" y="902.2" width="64.0" height="19.3" fill="#f8d9ba"/>
<text x="1544.0" y="922.5" font-size="21.50" text-anchor="end">91-114</text>
<rect x="1554.0" y="921.2" width="64.0" height="19.3" fill="#f3bb85"/>
<text x="1544.0" y="941.7" font-size="21.50" text-anchor="end">97-120</text>
<rect x="1554.0" y="940.1" width="64.0" height="19.3" fill="#f9ead9"/>
<text x="1544.0" y="960.9" font-size="21.50" text-anchor="end">103-126</text>
<rect x="1554.0" y="959.0" width="64.0" height="19.3" fill="#f7d5b3"/>
<text x="1544.0" y="980.1" font-size="21.50" text-anchor="end">109-132</text>
<rect x="1554.0" y="978.0" width="64.0" height="19.3" fill="#f5cba3"/>
<text x="1544.0" y="999.3" font-size="21.50" text-anchor="end">115-138</text>
<rect x="1554.0" y="996.9" width="64.0" height="19.3" fill="#f8dcc0"/>
<text x="1544.0" y="1018.5" font-size="21.50" text-anchor="end">121-144</text>
<rect x="1554.0" y="1015.9" width="64.0" height="19.3" fill="#f9e0c8"/>
<text x="1544.0" y="1037.7" font-size="21.50" text-anchor="end">127-150</text>
<rect x="1554.0" y="1034.8" width="64.0" height="19.3" fill="#7fa970"/>
<text x="1544.0" y="1056.9" font-size="21.50" text-anchor="end">133-156</text>
<rect x="1554.0" y="1053.7" width="64.0" height="19.3" fill="#f5c9a0"/>
<text x="1544.0" y="1076.1" font-size="21.50" text-anchor="end">139-162</text>
<rect x="1554.0" y="1072.7" width="64.0" height="19.3" fill="#f9e0c8"/>
<text x="1544.0" y="1095.3" font-size="21.50" text-anchor="end">145-168</text>
<rect x="1554.0" y="1091.6" width="64.0" height="19.3" fill="#d1b478"/>
<text x="1544.0" y="1114.5" font-size="21.50" text-anchor="end">151-174</text>
<rect x="1554.0" y="1110.6" width="64.0" height="19.3" fill="#d3b479"/>
<text x="1544.0" y="1133.7" font-size="21.50" text-anchor="end">157-180</text>
<rect x="1554.0" y="1129.5" width="64.0" height="19.3" fill="#f7d5b3"/>
<text x="1544.0" y="1152.9" font-size="21.50" text-anchor="end">163-186</text>
<rect x="1554.0" y="1148.4" width="64.0" height="22.7" fill="#f4c08e"/>
<text x="1544.0" y="1172.1" font-size="21.50" text-anchor="end">167-189</text>
<rect x="1554.0" y="639.0" width="64.0" height="531.7" fill="none" stroke="#222" stroke-width="1.2"/>
<text x="1700.1" y="661.2" font-size="18.20" text-anchor="middle" fill="#333">deltaPsi</text>
<text x="1629.8" y="684.0" font-size="18.20" textLength="138.8" lengthAdjust="spacingAndGlyphs" fill="#333">MLN4924/DMSO</text>
<rect x="1678.0" y="697.6" width="22.4" height="467.6" fill="url(#cb)" stroke="#2a2a2a" stroke-width="1.4"/>
<line x1="1677.5" y1="770.7" x2="1683.0" y2="770.7" stroke="#111" stroke-width="1.2"/>
<line x1="1695.4" y1="770.7" x2="1700.4" y2="770.7" stroke="#111" stroke-width="1.2"/>
<text x="1709.0" y="775.3" font-size="21.20">0.4</text>
<line x1="1677.5" y1="873.7" x2="1683.0" y2="873.7" stroke="#111" stroke-width="1.2"/>
<line x1="1695.4" y1="873.7" x2="1700.4" y2="873.7" stroke="#111" stroke-width="1.2"/>
<text x="1709.0" y="878.3" font-size="21.20">0.2</text>
<line x1="1677.5" y1="977.0" x2="1683.0" y2="977.0" stroke="#111" stroke-width="1.2"/>
<line x1="1695.4" y1="977.0" x2="1700.4" y2="977.0" stroke="#111" stroke-width="1.2"/>
<text x="1709.0" y="981.6" font-size="21.20">0</text>
<line x1="1677.5" y1="1080.4" x2="1683.0" y2="1080.4" stroke="#111" stroke-width="1.2"/>
<line x1="1695.4" y1="1080.4" x2="1700.4" y2="1080.4" stroke="#111" stroke-width="1.2"/>
<text x="1709.0" y="1085.0" font-size="21.20">-0.2</text>
<text x="72.6" y="1277.5" font-size="47.00">F</text>
<text x="373.0" y="1296.7" font-size="25.00" textLength="51.0" lengthAdjust="spacingAndGlyphs">IC50</text>
<line x1="373.0" y1="1301.4" x2="424.0" y2="1301.4" stroke="#000" stroke-width="1.5"/>
<text x="374.5" y="1331.8" font-size="24.80" textLength="59.2" lengthAdjust="spacingAndGlyphs">79.95</text>
<text x="374.5" y="1368.6" font-size="24.80" textLength="59.2" lengthAdjust="spacingAndGlyphs">78.05</text>
<line x1="122.0" y1="1314.5" x2="158.0" y2="1314.5" stroke="#000" stroke-width="1.6"/>
<circle cx="140.0" cy="1314.5" r="6.7" fill="#000"/>
<line x1="122.0" y1="1357.1" x2="158.0" y2="1357.1" stroke="#078307" stroke-width="1.6"/>
<rect x="133.2" y="1350.3" width="13.6" height="13.6" fill="#078307"/>
<text x="175.9" y="1322.9" font-size="24.50" textLength="153.7" lengthAdjust="spacingAndGlyphs">shGFP (n=3)</text>
<text x="175.9" y="1365.7" font-size="24.50" textLength="180.2" lengthAdjust="spacingAndGlyphs">shLZTR1 (n=3)</text>
<line x1="201.6" y1="1421.8" x2="201.6" y2="1756.9" stroke="#000" stroke-width="3.0"/>
<line x1="188.3" y1="1744.4" x2="523.0" y2="1744.4" stroke="#000" stroke-width="3.0"/>
<line x1="188.3" y1="1423.3" x2="201.6" y2="1423.3" stroke="#000" stroke-width="3.0"/>
<text x="184.0" y="1431.3" font-size="22.50" text-anchor="end">1.5</text>
<line x1="188.3" y1="1530.7" x2="201.6" y2="1530.7" stroke="#000" stroke-width="3.0"/>
<text x="184.0" y="1538.7" font-size="22.50" text-anchor="end">1.0</text>
<line x1="188.3" y1="1637.7" x2="201.6" y2="1637.7" stroke="#000" stroke-width="3.0"/>
<text x="184.0" y="1645.7" font-size="22.50" text-anchor="end">0.5</text>
<line x1="188.3" y1="1744.4" x2="201.6" y2="1744.4" stroke="#000" stroke-width="3.0"/>
<text x="184.0" y="1753.0" font-size="22.50" text-anchor="end">0.0</text>
<line x1="201.7" y1="1744.4" x2="201.7" y2="1756.9" stroke="#000" stroke-width="3.0"/>
<text x="201.7" y="1783.3" font-size="22.50" text-anchor="middle">1</text>
<line x1="308.3" y1="1744.4" x2="308.3" y2="1756.9" stroke="#000" stroke-width="3.0"/>
<text x="308.3" y="1783.3" font-size="22.50" text-anchor="middle">10</text>
<line x1="415.0" y1="1744.4" x2="415.0" y2="1756.9" stroke="#000" stroke-width="3.0"/>
<text x="415.0" y="1783.3" font-size="22.50" text-anchor="middle">100</text>
<line x1="521.7" y1="1744.4" x2="521.7" y2="1756.9" stroke="#000" stroke-width="3.0"/>
<text x="521.7" y="1783.3" font-size="22.50" text-anchor="middle">1000</text>
<text x="188.0" y="1821.7" font-size="25.00" textLength="348.5" lengthAdjust="spacingAndGlyphs">RMC7977 concentration (nM)</text>
<text x="0" y="0" font-size="25.00" text-anchor="middle" textLength="238.3" lengthAdjust="spacingAndGlyphs" transform="translate(135.0 1584.0) rotate(-90)">Relative Cell Growth</text>
<path d="M352.8 1534.3H365.8M352.8 1551.0H365.8M359.3 1534.3V1551.0" stroke="#078307" stroke-width="1.5" fill="none"/>
<path d="M408.5 1554.0H421.5M408.5 1597.7H421.5M415.0 1554.0V1597.7" stroke="#078307" stroke-width="1.5" fill="none"/>
<path d="M459.4 1589.3H472.4M459.4 1629.0H472.4M465.9 1589.3V1629.0" stroke="#078307" stroke-width="1.5" fill="none"/>
<path d="M515.2 1615.0H528.2M515.2 1661.7H528.2M521.7 1615.0V1661.7" stroke="#078307" stroke-width="1.5" fill="none"/>
<polyline points="201.7,1494.0 359.3,1542.7 415.0,1576.0 465.9,1609.3 521.7,1638.3" fill="none" stroke="#078307" stroke-width="1.85"/>
<rect x="194.9" y="1487.2" width="13.6" height="13.6" fill="#078307"/>
<rect x="352.5" y="1535.9" width="13.6" height="13.6" fill="#078307"/>
<rect x="408.2" y="1569.2" width="13.6" height="13.6" fill="#078307"/>
<rect x="459.1" y="1602.5" width="13.6" height="13.6" fill="#078307"/>
<rect x="514.9" y="1631.5" width="13.6" height="13.6" fill="#078307"/>
<path d="M195.2 1460.7H208.2M195.2 1552.3H208.2M201.7 1460.7V1552.3" stroke="#000" stroke-width="1.5" fill="none"/>
<path d="M352.8 1548.3H365.8M352.8 1568.3H365.8M359.3 1548.3V1568.3" stroke="#000" stroke-width="1.5" fill="none"/>
<path d="M408.5 1578.5H421.5M408.5 1588.5H421.5M415.0 1578.5V1588.5" stroke="#000" stroke-width="1.5" fill="none"/>
<path d="M459.4 1586.0H472.4M459.4 1610.0H472.4M465.9 1586.0V1610.0" stroke="#000" stroke-width="1.5" fill="none"/>
<path d="M515.2 1633.3H528.2M515.2 1658.3H528.2M521.7 1633.3V1658.3" stroke="#000" stroke-width="1.5" fill="none"/>
<polyline points="201.7,1506.7 359.3,1558.3 415.0,1583.3 465.9,1597.7 521.7,1646.0" fill="none" stroke="#000" stroke-width="1.85"/>
<circle cx="201.7" cy="1506.7" r="6.8" fill="#000"/>
<circle cx="359.3" cy="1558.3" r="6.8" fill="#000"/>
<circle cx="415.0" cy="1583.3" r="6.8" fill="#000"/>
<circle cx="465.9" cy="1597.7" r="6.8" fill="#000"/>
<circle cx="521.7" cy="1646.0" r="6.8" fill="#000"/>
<text x="641.4" y="1293.8" font-size="47.00">G</text>
<text x="0" y="0" font-size="25.50" textLength="80.0" lengthAdjust="spacingAndGlyphs" transform="translate(783.1 1503.8) rotate(-90)">sh<tspan font-style="italic">GFP</tspan></text>
<text x="0" y="0" font-size="25.00" textLength="102.0" lengthAdjust="spacingAndGlyphs" transform="translate(866.4 1503.8) rotate(-90)">sh<tspan font-style="italic">LZTR1</tspan></text>
<text x="0" y="0" font-size="25.00" textLength="102.7" lengthAdjust="spacingAndGlyphs" transform="translate(943.6 1506.2) rotate(-90)">sh<tspan font-style="italic">LZTR1</tspan></text>
<text x="0" y="0" font-size="25.00" textLength="135.0" lengthAdjust="spacingAndGlyphs" transform="translate(975.2 1506.2) rotate(-90)"><tspan font-style="italic">GFP-LZTR1</tspan></text>
<text x="1004.1" y="1479.3" font-size="24.50">kDa</text>
<text x="1004.1" y="1527.6" font-size="24.50">140</text>
<text x="1004.1" y="1579.7" font-size="24.50">80</text>
<text x="1004.1" y="1610.3" font-size="24.50">140</text>
<text x="1004.1" y="1671.5" font-size="24.50">80</text>
<text x="1004.1" y="1700.0" font-size="24.50">140</text>
<text x="1004.1" y="1739.2" font-size="24.50">100</text>
<path d="M1045.6 1533.7L1062 1522.8V1544.6Z" fill="#000"/>
<path d="M1045.6 1568.4L1062 1557.5V1579.3Z" fill="#000"/>
<text x="1067.1" y="1542.2" font-size="26.00" textLength="142.2" lengthAdjust="spacingAndGlyphs">GFP-LZTR1</text>
<text x="1067.1" y="1575.2" font-size="26.00" textLength="145.2" lengthAdjust="spacingAndGlyphs">endogenous</text>
<text x="660.6" y="1556.5" font-size="24.70" textLength="75.5" lengthAdjust="spacingAndGlyphs">LZTR1</text>
<text x="684.4" y="1636.5" font-size="24.70" textLength="51.6" lengthAdjust="spacingAndGlyphs">GFP</text>
<text x="648.7" y="1716.4" font-size="25.50" textLength="89.5" lengthAdjust="spacingAndGlyphs">Vinculin</text>
<clipPath id="c5"><rect x="743.0" y="1510.4" width="248.4" height="76.1"/></clipPath>
<filter id="c5f2" filterUnits="userSpaceOnUse" x="723" y="1490" width="288" height="116"><feGaussianBlur stdDeviation="1.8"/></filter>
<filter id="c5f1" filterUnits="userSpaceOnUse" x="723" y="1490" width="288" height="116"><feGaussianBlur stdDeviation="1.0"/></filter>
<rect x="743.0" y="1510.4" width="248.4" height="76.1" fill="#fafafa"/>
<g clip-path="url(#c5)">
<g filter="url(#c5f2)">
<path d="M756.5 1558.6Q789.2 1560.8 822.0 1558.6" stroke="#7c7c7c" stroke-width="5.5" fill="none" opacity="1"/>
<path d="M915.6 1533.2Q946.8 1534.0 978.0 1533.2" stroke="#a6a6a6" stroke-width="4.5" fill="none" opacity="1"/>
</g>
<g filter="url(#c5f1)">
<path d="M757.6 1537.5Q788.2 1537.5 818.8 1537.5" stroke="#e4e4e4" stroke-width="2.5" fill="none" opacity="1"/>
<path d="M836.0 1537.5Q866.5 1537.5 897.0 1537.5" stroke="#e9e9e9" stroke-width="2.5" fill="none" opacity="1"/>
<path d="M836.0 1560.0Q867.0 1560.5 898.0 1560.0" stroke="#ebebeb" stroke-width="2.5" fill="none" opacity="1"/>
<path d="M915.0 1559.5Q946.2 1559.5 977.5 1559.5" stroke="#f0f0f0" stroke-width="2.5" fill="none" opacity="1"/>
</g>
</g>
<rect x="744.6" y="1512.1" width="245.1" height="72.8" fill="none" stroke="#000" stroke-width="3.3"/>
<clipPath id="c6"><rect x="743.0" y="1591.0" width="252.2" height="77.7"/></clipPath>
<filter id="c6f1" filterUnits="userSpaceOnUse" x="723" y="1571" width="292" height="118"><feGaussianBlur stdDeviation="1.0"/></filter>
<filter id="c6f5" filterUnits="userSpaceOnUse" x="723" y="1571" width="292" height="118"><feGaussianBlur stdDeviation="0.6"/></filter>
<rect x="743.0" y="1591.0" width="252.2" height="77.7" fill="#e7e7e7"/>
<g clip-path="url(#c6)">
<g filter="url(#c6f1)">
<path d="M913.0 1654.9Q943.5 1654.9 974.0 1654.9" stroke="#c2c2c2" stroke-width="2.4" fill="none" opacity="1"/>
<path d="M917.0 1654.9Q922.0 1654.9 927.0 1654.9" stroke="#6a6a6a" stroke-width="2.6" fill="none" opacity="1"/>
<path d="M926.0 1642.4Q951.5 1642.4 977.0 1642.4" stroke="#d8d8d8" stroke-width="2.5" fill="none" opacity="1"/>
</g>
<g filter="url(#c6f5)">
<path d="M916.5 1620.3Q949.0 1618.5 981.4 1617.8" stroke="#4a4a4a" stroke-width="2.4" fill="none" opacity="1"/>
<path d="M915.6 1620.6Q917.3 1620.6 919.0 1620.6" stroke="#1c1c1c" stroke-width="3.6" fill="none" opacity="1"/>
</g>
</g>
<rect x="745.1" y="1593.1" width="248.0" height="73.5" fill="none" stroke="#000" stroke-width="4.2"/>
<clipPath id="c7"><rect x="743.9" y="1673.0" width="251.3" height="72.7"/></clipPath>
<filter id="c7f3" filterUnits="userSpaceOnUse" x="724" y="1653" width="291" height="113"><feGaussianBlur stdDeviation="2.6"/></filter>
<filter id="c7f2" filterUnits="userSpaceOnUse" x="724" y="1653" width="291" height="113"><feGaussianBlur stdDeviation="1.8"/></filter>
<rect x="743.9" y="1673.0" width="251.3" height="72.7" fill="#e0e0e0"/>
<g clip-path="url(#c7)">
<g filter="url(#c7f3)">
<path d="M755.7 1702.0Q787.9 1702.0 820.0 1702.0" stroke="#cfcfcf" stroke-width="24" fill="none" opacity="0.75"/>
<path d="M835.3 1702.0Q866.3 1704.5 897.3 1702.0" stroke="#cfcfcf" stroke-width="24" fill="none" opacity="0.75"/>
<path d="M912.6 1702.0Q945.1 1703.0 977.6 1702.0" stroke="#cfcfcf" stroke-width="24" fill="none" opacity="0.75"/>
</g>
<g filter="url(#c7f2)">
<path d="M755.7 1695.8Q787.9 1695.8 820.0 1695.8" stroke="#c4c4c4" stroke-width="4" fill="none" opacity="1"/>
<path d="M755.7 1709.3Q787.9 1709.3 820.0 1709.3" stroke="#6a6a6a" stroke-width="6.5" fill="none" opacity="1"/>
<path d="M835.3 1695.8Q866.3 1698.3 897.3 1695.8" stroke="#cacaca" stroke-width="4" fill="none" opacity="1"/>
<path d="M835.3 1709.3Q866.3 1711.8 897.3 1709.3" stroke="#8a8a8a" stroke-width="6.5" fill="none" opacity="1"/>
<path d="M912.6 1695.8Q945.1 1696.8 977.6 1695.8" stroke="#a4a4a4" stroke-width="4" fill="none" opacity="1"/>
<path d="M912.6 1709.3Q945.1 1710.3 977.6 1709.3" stroke="#6c6c6c" stroke-width="6.5" fill="none" opacity="1"/>
</g>
</g>
<rect x="745.8" y="1674.9" width="247.5" height="68.9" fill="none" stroke="#000" stroke-width="3.8"/>
<text x="1249.0" y="1299.3" font-size="47.00">H</text>
<text x="1751.2" y="1275.0" font-size="25.00" textLength="51.0" lengthAdjust="spacingAndGlyphs">IC50</text>
<line x1="1751.2" y1="1279.4" x2="1802.2" y2="1279.4" stroke="#000" stroke-width="1.5"/>
<text x="1735.1" y="1330.4" font-size="25.60" textLength="66.3" lengthAdjust="spacingAndGlyphs">76.37</text>
<text x="1732.0" y="1374.5" font-size="25.60" textLength="66.4" lengthAdjust="spacingAndGlyphs">162.2</text>
<text x="1742.2" y="1417.1" font-size="25.60" textLength="68.4" lengthAdjust="spacingAndGlyphs">67.58</text>
<line x1="1394.7" y1="1318.4" x2="1432.0" y2="1318.4" stroke="#000" stroke-width="1.6"/>
<circle cx="1413.2" cy="1318.4" r="7" fill="#000"/>
<line x1="1394.7" y1="1362.4" x2="1432.0" y2="1362.4" stroke="#0c704a" stroke-width="1.6"/>
<rect x="1406.2" y="1355.2" width="14.0" height="14.0" fill="#0c704a"/>
<line x1="1394.7" y1="1405.8" x2="1432.0" y2="1405.8" stroke="#fc620a" stroke-width="1.6"/>
<path d="M1413.2 1399L1421 1413.4H1405.4Z" fill="#fc620a"/>
<text x="1450.2" y="1327.3" font-size="25.30" textLength="84.9" lengthAdjust="spacingAndGlyphs">shGFP</text>
<text x="1450.2" y="1371.9" font-size="25.30" textLength="110.9" lengthAdjust="spacingAndGlyphs">shLZTR1</text>
<text x="1450.2" y="1415.3" font-size="25.30" textLength="275.5" lengthAdjust="spacingAndGlyphs">shLZTR1/ GFP-LZTR1</text>
<line x1="1339.6" y1="1390.0" x2="1339.6" y2="1732.6" stroke="#000" stroke-width="3.0"/>
<line x1="1325.4" y1="1719.6" x2="1669.3" y2="1719.6" stroke="#000" stroke-width="3.0"/>
<line x1="1325.4" y1="1391.2" x2="1339.6" y2="1391.2" stroke="#000" stroke-width="3.0"/>
<text x="1322.0" y="1399.5" font-size="24.00" text-anchor="end">1.5</text>
<line x1="1325.4" y1="1500.5" x2="1339.6" y2="1500.5" stroke="#000" stroke-width="3.0"/>
<text x="1322.0" y="1508.8" font-size="24.00" text-anchor="end">1.0</text>
<line x1="1325.4" y1="1610.2" x2="1339.6" y2="1610.2" stroke="#000" stroke-width="3.0"/>
<text x="1322.0" y="1618.5" font-size="24.00" text-anchor="end">0.5</text>
<line x1="1325.4" y1="1719.1" x2="1339.6" y2="1719.1" stroke="#000" stroke-width="3.0"/>
<text x="1322.0" y="1727.4" font-size="24.00" text-anchor="end">0.0</text>
<line x1="1339.5" y1="1719.6" x2="1339.5" y2="1732.6" stroke="#000" stroke-width="3.0"/>
<text x="1339.5" y="1759.5" font-size="24.00" text-anchor="middle">1</text>
<line x1="1448.8" y1="1719.6" x2="1448.8" y2="1732.6" stroke="#000" stroke-width="3.0"/>
<text x="1448.8" y="1759.5" font-size="24.00" text-anchor="middle">10</text>
<line x1="1558.1" y1="1719.6" x2="1558.1" y2="1732.6" stroke="#000" stroke-width="3.0"/>
<text x="1558.1" y="1759.5" font-size="24.00" text-anchor="middle">100</text>
<line x1="1667.8" y1="1719.6" x2="1667.8" y2="1732.6" stroke="#000" stroke-width="3.0"/>
<text x="1667.8" y="1759.5" font-size="24.00" text-anchor="middle">1000</text>
<text x="1321.9" y="1800.0" font-size="26.40" textLength="365.6" lengthAdjust="spacingAndGlyphs">MRTX1133 concentration(nM)</text>
<text x="0" y="0" font-size="26.00" text-anchor="middle" textLength="246.0" lengthAdjust="spacingAndGlyphs" transform="translate(1272.0 1555.0) rotate(-90)">Relative Cell Growth</text>
<path d="M1333.0 1473.0H1346.0M1333.0 1530.0H1346.0M1339.5 1473.0V1530.0" stroke="#fc620a" stroke-width="1.5" fill="none"/>
<path d="M1494.6 1538.8H1507.6M1494.6 1575.0H1507.6M1501.1 1538.8V1575.0" stroke="#fc620a" stroke-width="1.5" fill="none"/>
<path d="M1551.8 1585.5H1564.8M1551.8 1602.4H1564.8M1558.3 1585.5V1602.4" stroke="#fc620a" stroke-width="1.5" fill="none"/>
<path d="M1604.0 1603.0H1617.0M1604.0 1637.6H1617.0M1610.5 1603.0V1637.6" stroke="#fc620a" stroke-width="1.5" fill="none"/>
<path d="M1661.2 1629.5H1674.2M1661.2 1662.9H1674.2M1667.7 1629.5V1662.9" stroke="#fc620a" stroke-width="1.5" fill="none"/>
<polyline points="1339.5,1501.2 1501.1,1557.4 1558.3,1592.6 1610.5,1620.7 1667.7,1647.1" fill="none" stroke="#fc620a" stroke-width="1.85"/>
<path d="M1339.5 1493.4L1346.3 1505.6H1332.7Z" fill="#fc620a"/>
<path d="M1501.1 1549.6L1507.9 1561.8H1494.3Z" fill="#fc620a"/>
<path d="M1558.3 1584.8L1565.1 1597.0H1551.5Z" fill="#fc620a"/>
<path d="M1610.5 1612.9L1617.3 1625.1H1603.7Z" fill="#fc620a"/>
<path d="M1667.7 1639.3L1674.5 1651.5H1660.9Z" fill="#fc620a"/>
<path d="M1333.0 1439.7H1346.0M1333.0 1490.0H1346.0M1339.5 1439.7V1490.0" stroke="#0c704a" stroke-width="1.5" fill="none"/>
<path d="M1494.6 1466.0H1507.6M1494.6 1531.8H1507.6M1501.1 1466.0V1531.8" stroke="#0c704a" stroke-width="1.5" fill="none"/>
<path d="M1551.8 1490.7H1564.8M1551.8 1554.6H1564.8M1558.3 1490.7V1554.6" stroke="#0c704a" stroke-width="1.5" fill="none"/>
<path d="M1604.0 1543.4H1617.0M1604.0 1577.8H1617.0M1610.5 1543.4V1577.8" stroke="#0c704a" stroke-width="1.5" fill="none"/>
<path d="M1661.2 1575.0H1674.2M1661.2 1618.2H1674.2M1667.7 1575.0V1618.2" stroke="#0c704a" stroke-width="1.5" fill="none"/>
<polyline points="1339.5,1464.3 1501.1,1499.4 1558.3,1523.0 1610.5,1561.0 1667.7,1597.2" fill="none" stroke="#0c704a" stroke-width="1.85"/>
<rect x="1332.7" y="1457.5" width="13.6" height="13.6" fill="#0c704a"/>
<rect x="1494.3" y="1492.6" width="13.6" height="13.6" fill="#0c704a"/>
<rect x="1551.5" y="1516.2" width="13.6" height="13.6" fill="#0c704a"/>
<rect x="1603.7" y="1554.2" width="13.6" height="13.6" fill="#0c704a"/>
<rect x="1660.9" y="1590.4" width="13.6" height="13.6" fill="#0c704a"/>
<path d="M1333.0 1445.0H1346.0M1333.0 1510.0H1346.0M1339.5 1445.0V1510.0" stroke="#000" stroke-width="1.5" fill="none"/>
<path d="M1494.6 1537.4H1507.6M1494.6 1562.7H1507.6M1501.1 1537.4V1562.7" stroke="#000" stroke-width="1.5" fill="none"/>
<path d="M1551.8 1575.0H1564.8M1551.8 1597.9H1564.8M1558.3 1575.0V1597.9" stroke="#000" stroke-width="1.5" fill="none"/>
<path d="M1604.0 1602.4H1617.0M1604.0 1640.0H1617.0M1610.5 1602.4V1640.0" stroke="#000" stroke-width="1.5" fill="none"/>
<path d="M1661.2 1636.5H1674.2M1661.2 1662.2H1674.2M1667.7 1636.5V1662.2" stroke="#000" stroke-width="1.5" fill="none"/>
<polyline points="1339.5,1479.0 1501.1,1550.4 1558.3,1585.6 1610.5,1620.7 1667.7,1649.5" fill="none" stroke="#000" stroke-width="1.85"/>
<circle cx="1339.5" cy="1479.0" r="6.8" fill="#000"/>
<circle cx="1501.1" cy="1550.4" r="6.8" fill="#000"/>
<circle cx="1558.3" cy="1585.6" r="6.8" fill="#000"/>
<circle cx="1610.5" cy="1620.7" r="6.8" fill="#000"/>
<circle cx="1667.7" cy="1649.5" r="6.8" fill="#000"/>
<text x="43.8" y="1904.8" font-size="47.00">I</text>
<line x1="211.4" y1="1919.0" x2="211.4" y2="2289.5" stroke="#000" stroke-width="1.9"/>
<line x1="201.2" y1="2280.0" x2="573.6" y2="2280.0" stroke="#000" stroke-width="1.9"/>
<line x1="201.2" y1="1919.8" x2="211.4" y2="1919.8" stroke="#000" stroke-width="1.9"/>
<text x="195.9" y="1928.8" font-size="25.30" text-anchor="end">1000</text>
<line x1="201.2" y1="1992.2" x2="211.4" y2="1992.2" stroke="#000" stroke-width="1.9"/>
<text x="195.9" y="2001.2" font-size="25.30" text-anchor="end">800</text>
<line x1="201.2" y1="2063.9" x2="211.4" y2="2063.9" stroke="#000" stroke-width="1.9"/>
<text x="195.9" y="2072.9" font-size="25.30" text-anchor="end">600</text>
<line x1="201.2" y1="2136.3" x2="211.4" y2="2136.3" stroke="#000" stroke-width="1.9"/>
<text x="195.9" y="2145.3" font-size="25.30" text-anchor="end">400</text>
<line x1="201.2" y1="2208.3" x2="211.4" y2="2208.3" stroke="#000" stroke-width="1.9"/>
<text x="195.9" y="2217.3" font-size="25.30" text-anchor="end">200</text>
<line x1="201.2" y1="2280.0" x2="211.4" y2="2280.0" stroke="#000" stroke-width="1.9"/>
<text x="195.9" y="2289.0" font-size="25.30" text-anchor="end">0</text>
<line x1="211.4" y1="2280.0" x2="211.4" y2="2289.5" stroke="#000" stroke-width="1.9"/>
<text x="211.4" y="2318.7" font-size="25.30" text-anchor="middle">0</text>
<line x1="263.0" y1="2280.0" x2="263.0" y2="2289.5" stroke="#000" stroke-width="1.9"/>
<text x="263.0" y="2318.7" font-size="25.30" text-anchor="middle">2</text>
<line x1="314.7" y1="2280.0" x2="314.7" y2="2289.5" stroke="#000" stroke-width="1.9"/>
<text x="314.7" y="2318.7" font-size="25.30" text-anchor="middle">4</text>
<line x1="366.0" y1="2280.0" x2="366.0" y2="2289.5" stroke="#000" stroke-width="1.9"/>
<text x="366.0" y="2318.7" font-size="25.30" text-anchor="middle">6</text>
<line x1="417.7" y1="2280.0" x2="417.7" y2="2289.5" stroke="#000" stroke-width="1.9"/>
<text x="417.7" y="2318.7" font-size="25.30" text-anchor="middle">8</text>
<line x1="469.4" y1="2280.0" x2="469.4" y2="2289.5" stroke="#000" stroke-width="1.9"/>
<text x="469.4" y="2318.7" font-size="25.30" text-anchor="middle">10</text>
<line x1="521.0" y1="2280.0" x2="521.0" y2="2289.5" stroke="#000" stroke-width="1.9"/>
<text x="521.0" y="2318.7" font-size="25.30" text-anchor="middle">12</text>
<line x1="572.7" y1="2280.0" x2="572.7" y2="2289.5" stroke="#000" stroke-width="1.9"/>
<text x="572.7" y="2318.7" font-size="25.30" text-anchor="middle">14</text>
<text x="253.6" y="2347.8" font-size="27.80" textLength="330.4" lengthAdjust="spacingAndGlyphs">weeks after Cre infection</text>
<text x="0" y="0" font-size="28.70" textLength="344.0" lengthAdjust="spacingAndGlyphs" transform="translate(91.8 2271.1) rotate(-90)">Longitudinal tumor nodule</text>
<text transform="translate(133.6 2250) rotate(-90)" font-size="29.5" textLength="302.5" lengthAdjust="spacingAndGlyphs">volume analysis (mm<tspan dy="-12.2" font-size="23">3</tspan><tspan dy="12.2">)</tspan></text>
<path d="M462.1 2237.2H476.7M462.1 2259.0H476.7M469.4 2237.2V2259.0" stroke="#ff0000" stroke-width="1.75" fill="none"/>
<path d="M513.7 2134.2H528.3M513.7 2197.4H528.3M521.0 2134.2V2197.4" stroke="#ff0000" stroke-width="1.75" fill="none"/>
<path d="M565.4 2044.9H580.0M565.4 2127.1H580.0M572.7 2044.9V2127.1" stroke="#ff0000" stroke-width="1.75" fill="none"/>
<polyline points="211.4,2280.0 314.7,2280.0 366.0,2280.0 417.7,2278.3 469.4,2248.4 521.0,2165.8 572.7,2086.0" fill="none" stroke="#ff0000" stroke-width="1.9"/>
<circle cx="211.4" cy="2280.0" r="7.5" fill="#ff0000"/>
<circle cx="314.7" cy="2280.0" r="7.5" fill="#ff0000"/>
<circle cx="366.0" cy="2280.0" r="7.5" fill="#ff0000"/>
<circle cx="417.7" cy="2278.3" r="7.5" fill="#ff0000"/>
<circle cx="469.4" cy="2248.4" r="7.5" fill="#ff0000"/>
<circle cx="521.0" cy="2165.8" r="7.5" fill="#ff0000"/>
<circle cx="572.7" cy="2086.0" r="7.5" fill="#ff0000"/>
<path d="M513.7 2253.0H528.3M513.7 2267.7H528.3M521.0 2253.0V2267.7" stroke="#946824" stroke-width="1.75" fill="none"/>
<path d="M565.4 2226.3H580.0M565.4 2255.1H580.0M572.7 2226.3V2255.1" stroke="#946824" stroke-width="1.75" fill="none"/>
<polyline points="211.4,2280.0 314.7,2280.0 366.0,2280.7 417.7,2279.0 469.4,2268.4 521.0,2260.7 572.7,2240.7" fill="none" stroke="#946824" stroke-width="1.9"/>
<circle cx="211.4" cy="2280.0" r="7.5" fill="#946824"/>
<circle cx="314.7" cy="2280.0" r="7.5" fill="#946824"/>
<circle cx="366.0" cy="2280.7" r="7.5" fill="#946824"/>
<circle cx="417.7" cy="2279.0" r="7.5" fill="#946824"/>
<circle cx="469.4" cy="2268.4" r="7.5" fill="#946824"/>
<circle cx="521.0" cy="2260.7" r="7.5" fill="#946824"/>
<circle cx="572.7" cy="2240.7" r="7.5" fill="#946824"/>
<path d="M513.7 2214.3H528.3M513.7 2234.7H528.3M521.0 2214.3V2234.7" stroke="#000" stroke-width="1.75" fill="none"/>
<path d="M565.4 2122.9H580.0M565.4 2207.3H580.0M572.7 2122.9V2207.3" stroke="#000" stroke-width="1.75" fill="none"/>
<polyline points="211.4,2280.0 314.7,2280.0 366.0,2280.7 417.7,2276.5 469.4,2260.7 521.0,2224.5 572.7,2165.1" fill="none" stroke="#000" stroke-width="1.9"/>
<circle cx="211.4" cy="2280.0" r="7.5" fill="#000"/>
<circle cx="314.7" cy="2280.0" r="7.5" fill="#000"/>
<circle cx="366.0" cy="2280.7" r="7.5" fill="#000"/>
<circle cx="417.7" cy="2276.5" r="7.5" fill="#000"/>
<circle cx="469.4" cy="2260.7" r="7.5" fill="#000"/>
<circle cx="521.0" cy="2224.5" r="7.5" fill="#000"/>
<circle cx="572.7" cy="2165.1" r="7.5" fill="#000"/>
<path d="M410.4 2237.9H425.0M410.4 2269.5H425.0M417.7 2237.9V2269.5" stroke="#129d6c" stroke-width="1.75" fill="none"/>
<path d="M462.1 2158.0H476.7M462.1 2207.3H476.7M469.4 2158.0V2207.3" stroke="#129d6c" stroke-width="1.75" fill="none"/>
<path d="M513.7 2069.8H528.3M513.7 2126.0H528.3M521.0 2069.8V2126.0" stroke="#129d6c" stroke-width="1.75" fill="none"/>
<path d="M565.4 1988.6H580.0M565.4 2053.3H580.0M572.7 1988.6V2053.3" stroke="#129d6c" stroke-width="1.75" fill="none"/>
<polyline points="211.4,2280.0 314.7,2280.0 366.0,2272.0 417.7,2253.0 469.4,2182.3 521.0,2098.3 572.7,2021.0" fill="none" stroke="#129d6c" stroke-width="1.9"/>
<circle cx="211.4" cy="2280.0" r="7.5" fill="#129d6c"/>
<circle cx="314.7" cy="2280.0" r="7.5" fill="#129d6c"/>
<circle cx="366.0" cy="2272.0" r="7.5" fill="#129d6c"/>
<circle cx="417.7" cy="2253.0" r="7.5" fill="#129d6c"/>
<circle cx="469.4" cy="2182.3" r="7.5" fill="#129d6c"/>
<circle cx="521.0" cy="2098.3" r="7.5" fill="#129d6c"/>
<circle cx="572.7" cy="2021.0" r="7.5" fill="#129d6c"/>
<circle cx="626.8" cy="1913.9" r="11.2" fill="#000"/>
<circle cx="626.8" cy="1960.8" r="11.2" fill="#946824"/>
<circle cx="626.8" cy="2009.0" r="11.2" fill="#129d6c"/>
<circle cx="626.8" cy="2053.5" r="11.2" fill="#e8202a"/>
<text x="669.0" y="1923.7" font-size="26.00" textLength="250.6" lengthAdjust="spacingAndGlyphs"><tspan font-style="italic">Kras-G12D; Lztr1-WT</tspan></text>
<text x="937.1" y="1923.7" font-size="26.00" textLength="153.1" lengthAdjust="spacingAndGlyphs">Vehicle (n=8)</text>
<text x="669.0" y="1970.6" font-size="26.00" textLength="250.6" lengthAdjust="spacingAndGlyphs"><tspan font-style="italic">Kras-G12D; Lztr1-WT</tspan></text>
<text x="937.1" y="1970.6" font-size="26.00" textLength="200.0" lengthAdjust="spacingAndGlyphs">MRTX1133 (n=8)</text>
<text x="669.0" y="2018.0" font-size="26.00" textLength="262.0" lengthAdjust="spacingAndGlyphs"><tspan font-style="italic">Kras-G12D; Lztr1-HET</tspan></text>
<text x="947.3" y="2018.0" font-size="26.00" textLength="153.1" lengthAdjust="spacingAndGlyphs">Vehicle (n=8)</text>
<text x="669.0" y="2061.6" font-size="26.00" textLength="262.0" lengthAdjust="spacingAndGlyphs"><tspan font-style="italic">Kras-G12D; Lztr1-HET</tspan></text>
<text x="945.3" y="2061.6" font-size="26.00" textLength="198.0" lengthAdjust="spacingAndGlyphs">MRTX1133 (n=8)</text>
<path d="M1147.3 1914.7H1157.6V1971.8H1147.3" fill="none" stroke="#2a2a2a" stroke-width="2"/>
<path d="M1147.3 2001.6H1157.6V2058.8H1147.3" fill="none" stroke="#2a2a2a" stroke-width="2"/>
<text x="1165.7" y="1949.4" font-size="25.20" textLength="91.9" lengthAdjust="spacingAndGlyphs">p=0.047</text>
<text x="1168.6" y="2031.8" font-size="25.20" textLength="92.2" lengthAdjust="spacingAndGlyphs">p=0.232</text>
</svg>
</body></html>
